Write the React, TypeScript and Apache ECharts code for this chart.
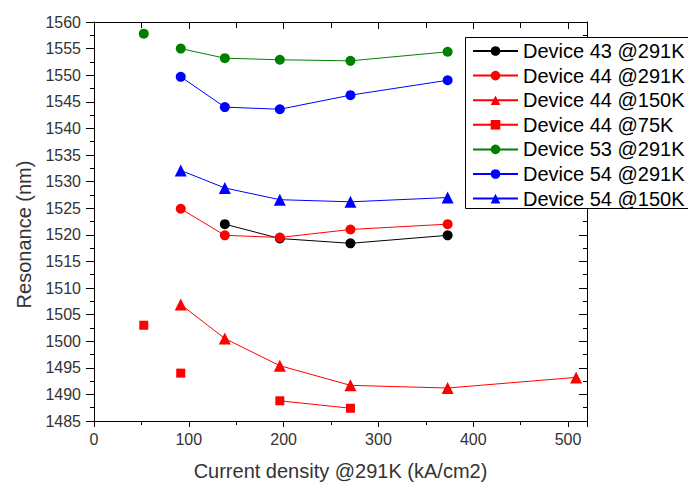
import React, { useEffect, useRef } from "react";
import * as echarts from "echarts";

// ---- Data ----
const seriesNames = [
  "Device 43 @291K",
  "Device 44 @291K",
  "Device 44 @150K",
  "Device 44 @75K",
  "Device 53 @291K",
  "Device 54 @291K",
  "Device 54 @150K",
];

const device43X = [138, 196, 270.5, 373];
const device43Y = [1522.0, 1519.3, 1518.4, 1519.9];

const device44at291X = [91.5, 138, 196, 270.5, 373];
const device44at291Y = [1524.9, 1519.9, 1519.5, 1521.0, 1522.0];

const device44at150X = [91.5, 138, 196, 270.5, 373, 508.5];
const device44at150Y = [1506.9, 1500.5, 1495.4, 1491.7, 1491.2, 1493.2];

const device44at75X = [196, 270.5];
const device44at75Y = [1488.8, 1487.4];
const device44at75LooseX = [52.5, 91.5];
const device44at75LooseY = [1503.0, 1494.0];

const device53X = [91.5, 138, 196, 270.5, 373];
const device53Y = [1555.0, 1553.2, 1552.9, 1552.7, 1554.4];
const device53LooseX = [52.5];
const device53LooseY = [1557.8];

const device54at291X = [91.5, 138, 196, 270.5, 373];
const device54at291Y = [1549.7, 1544.0, 1543.6, 1546.25, 1549.05];

const device54at150X = [91.5, 138, 196, 270.5, 373];
const device54at150Y = [1532.1, 1528.8, 1526.6, 1526.2, 1527.0];

const xTickValues = [0, 100, 200, 300, 400, 500];

const zip = (xs: number[], ys: number[]) => xs.map((x, i) => [x, ys[i]]);

const FONT = 'Arial, "Liberation Sans", sans-serif';

function lineSeries(name: string, xs: number[], ys: number[], color: string, symbol: string, size: number) {
  return {
    name,
    type: "line",
    data: zip(xs, ys),
    symbol,
    symbolSize: size,
    showAllSymbol: true,
    itemStyle: { color, opacity: 1 },
    lineStyle: { color, width: 1 },
    emphasis: { disabled: true },
  };
}

function looseSeries(name: string, xs: number[], ys: number[], color: string, symbol: string, size: number) {
  return {
    name,
    type: "scatter",
    data: zip(xs, ys),
    symbol,
    symbolSize: size,
    itemStyle: { color, opacity: 1 },
    emphasis: { disabled: true },
  };
}

export default function App() {
  const ref = useRef<HTMLDivElement>(null);
  useEffect(() => {
    if (!ref.current) return;
    const chart = echarts.init(ref.current, undefined, { renderer: "svg" });
    const axisLine = { show: true, onZero: false, lineStyle: { color: "#000", width: 1 } };
    const option: any = {
      animation: false,
      backgroundColor: "#fff",
      textStyle: { fontFamily: FONT },
      grid: { left: 94, top: 22, width: 493, height: 402, containLabel: false },
      graphic: [
        {
          type: "rect",
          z: 3,
          shape: { x: 465.5, y: 37.5, width: 300, height: 171 },
          style: { fill: "#fff", stroke: "#000", lineWidth: 1 },
        },
      ],
      legend: {
        data: seriesNames,
        orient: "vertical",
        left: 465,
        top: 37,
        itemWidth: 45,
        itemHeight: 12,
        itemGap: 4.6,
        padding: [4, 4, 2, 7],
        borderWidth: 0,
        selectedMode: false,
        z: 5,
        textStyle: { fontSize: 20, color: "#000", lineHeight: 20, fontFamily: FONT },
      },
      xAxis: [
        {
          type: "value",
          position: "bottom",
          min: 0,
          max: 520,
          interval: 100,
          axisLine,
          axisTick: { show: true, length: 6, lineStyle: { color: "#000" } },
          minorTick: { show: true, splitNumber: 2, length: 4, lineStyle: { color: "#000" } },
          splitLine: { show: false },
          axisLabel: {
            fontSize: 16,
            color: "#333",
            margin: 10,
            formatter: (v: number) => (xTickValues.includes(v) ? String(v) : ""),
          },
          name: "Current density @291K (kA/cm2)",
          nameLocation: "middle",
          nameGap: 40,
          nameTextStyle: { fontSize: 20, color: "#333", fontFamily: FONT },
        },
        {
          type: "value",
          position: "top",
          min: 0,
          max: 520,
          interval: 100,
          axisLine,
          axisTick: { show: true, inside: true, length: 7, lineStyle: { color: "#000" } },
          minorTick: { show: true, splitNumber: 2, length: 6, lineStyle: { color: "#000" } },
          splitLine: { show: false },
          axisLabel: { show: false },
        },
      ],
      yAxis: [
        {
          type: "value",
          position: "left",
          min: 1485,
          max: 1560,
          interval: 5,
          axisLine,
          axisTick: { show: true, length: 8, lineStyle: { color: "#000" } },
          minorTick: { show: true, splitNumber: 2, length: 4, lineStyle: { color: "#000" } },
          splitLine: { show: false },
          axisLabel: { fontSize: 16, color: "#333", margin: 13, formatter: (v: number) => String(v) },
          name: "Resonance (nm)",
          nameLocation: "middle",
          nameGap: 60,
          nameTextStyle: { fontSize: 20, color: "#333", fontFamily: FONT, padding: [0, 26, 0, 0] },
        },
        {
          type: "value",
          position: "right",
          min: 1485,
          max: 1560,
          interval: 5,
          axisLine,
          axisTick: { show: true, inside: true, length: 8, lineStyle: { color: "#000" } },
          minorTick: { show: true, splitNumber: 2, length: 4, lineStyle: { color: "#000" } },
          splitLine: { show: false },
          axisLabel: { show: false },
        },
      ],
      series: [
        lineSeries(seriesNames[0], device43X, device43Y, "#000000", "circle", 10),
        lineSeries(seriesNames[1], device44at291X, device44at291Y, "#ff0000", "circle", 10),
        lineSeries(seriesNames[2], device44at150X, device44at150Y, "#ff0000", "triangle", 12),
        lineSeries(seriesNames[3], device44at75X, device44at75Y, "#ff0000", "rect", 9),
        looseSeries("Device 44 @75K (single points)", device44at75LooseX, device44at75LooseY, "#ff0000", "rect", 9),
        lineSeries(seriesNames[4], device53X, device53Y, "#008000", "circle", 10),
        looseSeries("Device 53 @291K (single point)", device53LooseX, device53LooseY, "#008000", "circle", 10),
        lineSeries(seriesNames[5], device54at291X, device54at291Y, "#0000ff", "circle", 10),
        lineSeries(seriesNames[6], device54at150X, device54at150Y, "#0000ff", "triangle", 12),
      ],
    };
    chart.setOption(option);
    return () => chart.dispose();
  }, []);
  return <div ref={ref} style={{ width: 688, height: 486, position: "absolute", left: 0, top: 0 }} />;
}
